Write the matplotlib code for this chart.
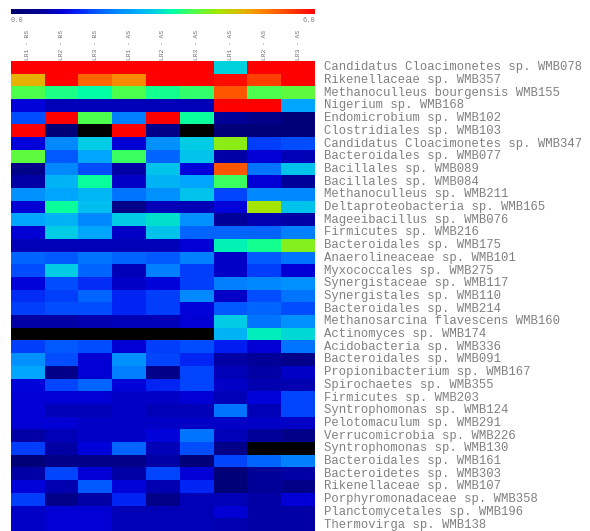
import numpy as np
import matplotlib
matplotlib.use("Agg")
import matplotlib.pyplot as plt
from matplotlib.colors import LinearSegmentedColormap

N = np.nan

taxa = [
    "Candidatus Cloacimonetes sp. WMB078", "Rikenellaceae sp. WMB357",
    "Methanoculleus bourgensis WMB155", "Nigerium sp. WMB168",
    "Endomicrobium sp. WMB102", "Clostridiales sp. WMB103",
    "Candidatus Cloacimonetes sp. WMB347", "Bacteroidales sp. WMB077",
    "Bacillales sp. WMB089", "Bacillales sp. WMB084",
    "Methanoculleus sp. WMB211", "Deltaproteobacteria sp. WMB165",
    "Mageeibacillus sp. WMB076", "Firmicutes sp. WMB216",
    "Bacteroidales sp. WMB175", "Anaerolineaceae sp. WMB101",
    "Myxococcales sp. WMB275", "Synergistaceae sp. WMB117",
    "Synergistales sp. WMB110", "Bacteroidales sp. WMB214",
    "Methanosarcina flavescens WMB160", "Actinomyces sp. WMB174",
    "Acidobacteria sp. WMB336", "Bacteroidales sp. WMB091",
    "Propionibacterium sp. WMB167", "Spirochaetes sp. WMB355",
    "Firmicutes sp. WMB203", "Syntrophomonas sp. WMB124",
    "Pelotomaculum sp. WMB291", "Verrucomicrobia sp. WMB226",
    "Syntrophomonas sp. WMB130", "Bacteroidales sp. WMB161",
    "Bacteroidetes sp. WMB303", "Rikenellaceae sp. WMB107",
    "Porphyromonadaceae sp. WMB358", "Planctomycetales sp. WMB196",
    "Thermovirga sp. WMB138",
]

samples = ["LR1 - BS", "LR2 - BS", "LR3 - BS",
           "LR1 - AS", "LR2 - AS", "LR3 - AS",
           "LR1 - AS", "LR2 - AS", "LR3 - AS"]

lr1_bs = [6, 4.6, 3.6, 1.05, 1.6, 6, 1.05, 3.7, 0.4, 0.7, 2.2, 1.0, 2.4, 1.0, 0.8, 1.8, 1.6, 1.05, 1.4,
          1.5, 0.7, N, 1.5, 2.2, 2.4, 1.05, 1.0, 1.0, 1.0, 0.7, 1.5, 0.2, 0.7, 1.05, 1.5, 0.9, 0.9]
lr2_bs = [6, 6, 3.35, 0.8, 6, 0.2, 2.1, 1.7, 2.1, 2.55, 2.4, 3.25, 2.55, 2.8, 0.8, 1.7, 2.8, 1.6, 1.5,
          1.6, 0.7, N, 1.7, 1.6, 0.4, 1.55, 1.0, 0.8, 1.0, 0.8, 0.7, 0.4, 1.55, 0.75, 0.4, 1.0, 1.0]
lr3_bs = [6, 5.2, 3.2, 0.8, 3.6, N, 2.8, 2.4, 1.6, 3.25, 2.6, 2.65, 2.1, 2.4, 0.8, 1.9, 1.8, 1.4, 1.8,
          1.6, 0.75, N, 1.6, 1.0, 1.0, 1.8, 1.0, 0.8, 0.9, 0.9, 1.05, 0.4, 1.0, 1.7, 0.7, 1.0, 1.0]
lr1_as = [6, 4.9, 3.6, 0.8, 2.0, 6, 1.0, 3.5, 0.7, 0.9, 1.9, 0.4, 2.8, 0.9, 0.8, 1.8, 0.8, 0.9, 1.35,
          1.35, 0.8, N, 1.0, 2.2, 2.0, 1.05, 0.9, 0.9, 0.9, 0.9, 1.8, 0.4, 0.7, 1.05, 1.35, 0.8, 0.8]
lr2_as = [6, 6, 3.3, 0.8, 6, 0.4, 2.2, 1.8, 2.7, 2.55, 2.2, 0.8, 2.95, 2.7, 0.8, 1.7, 2.0, 1.05, 1.5,
          1.5, 0.8, N, 1.5, 1.55, 0.4, 1.35, 0.9, 0.8, 0.9, 1.05, 0.8, 0.7, 1.55, 0.75, 0.4, 0.8, 0.8]
lr3_as = [6, 6, 3.45, 0.8, 3.25, N, 2.8, 2.7, 1.05, 2.4, 2.7, 0.8, 2.2, 1.8, 1.0, 2.0, 1.5, 1.5, 2.1,
          1.05, 1.0, N, 1.6, 1.35, 1.55, 1.55, 1.0, 0.8, 0.9, 1.9, 1.6, 0.2, 1.0, 1.35, 0.8, 0.8, 0.8]
lr1_as2 = [2.85, 5.9, 5.3, 6, 0.6, 0.2, 3.95, 0.7, 5.3, 3.5, 1.55, 1.05, 0.6, 1.8, 3.1, 0.9, 0.9, 2.0, 0.9,
           1.7, 2.8, 2.55, 1.3, 0.7, 0.8, 0.9, 0.8, 1.9, 0.9, 0.8, 0.4, 1.55, 0.2, 0.2, 0.8, 1.0, 0.75]
lr2_as2 = [6, 5.5, 3.6, 6, 0.4, 0.2, 1.5, 1.0, 1.9, 1.0, 2.1, 4.1, 0.75, 1.8, 3.3, 1.7, 1.5, 2.1, 1.6,
           1.8, 1.9, 3.05, 1.0, 0.6, 0.7, 0.75, 1.05, 0.8, 0.9, 0.6, N, 1.8, 0.6, 0.6, 0.7, 0.7, 0.7]
lr3_as2 = [6, 6, 3.7, 2.4, 0.2, 0.2, 1.6, 0.8, 2.7, 0.6, 2.1, 2.7, 0.7, 2.0, 3.9, 1.9, 1.0, 2.2, 1.9,
           1.6, 2.2, 2.9, 1.9, 0.4, 0.9, 0.75, 1.55, 1.55, 0.9, 0.4, N, 2.0, 0.7, 0.4, 1.0, 0.7, 0.7]

columns = [lr1_bs, lr2_bs, lr3_bs, lr1_as, lr2_as, lr3_as, lr1_as2, lr2_as2, lr3_as2]
data = np.ma.masked_invalid(np.array(columns, dtype=float).T)

# colour scale like the original tool (navy -> blue -> cyan -> green -> yellow -> red)
stops = [
    (0.0, (0.0, 0.0, 0.42)),
    (0.6, (0.0, 0.0, 0.60)),
    (1.0, (0.0, 0.0, 0.84)),
    (1.3, (0.0, 0.12, 0.95)),
    (1.6, (0.0, 0.30, 1.0)),
    (2.0, (0.0, 0.50, 1.0)),
    (2.4, (0.0, 0.65, 1.0)),
    (2.8, (0.0, 0.80, 0.90)),
    (3.2, (0.0, 1.0, 0.65)),
    (3.6, (0.3, 1.0, 0.3)),
    (4.1, (0.65, 0.9, 0.0)),
    (4.6, (0.9, 0.7, 0.0)),
    (5.0, (1.0, 0.5, 0.0)),
    (5.5, (1.0, 0.25, 0.0)),
    (6.0, (1.0, 0.0, 0.0)),
]
cmap = LinearSegmentedColormap.from_list("heat", [(v / 6.0, c) for v, c in stops])
cmap.set_bad("black")

fig = plt.figure(figsize=(5.9, 5.31), dpi=100)
W, H = 590.0, 531.0
x0, x1 = 11, 315
top = 61
row_h = 12.7
nrows = len(taxa)
col_w = (x1 - x0) / len(samples)
ax = fig.add_axes([x0 / W, 1 - (top + nrows * row_h) / H, (x1 - x0) / W, nrows * row_h / H])
im = ax.imshow(data, cmap=cmap, vmin=0, vmax=6, aspect="auto", interpolation="nearest")
ax.set_xticks([])
ax.set_yticks([])
for s in ax.spines.values():
    s.set_visible(False)

# row labels on the right
lab_x = len(samples) - 0.5 + 9 / col_w
for i, name in enumerate(taxa):
    ax.text(lab_x, i, name, fontsize=8.8, family="Liberation Mono", color="#808080",
            va="center", ha="left", clip_on=False)

# column labels, rotated
for j, lab in enumerate(samples):
    ax.text(j, -0.6, lab, fontsize=4.5, family="Liberation Mono", color="#707070",
            rotation=90, ha="center", va="bottom", clip_on=False)

# colour bar on top
cax = fig.add_axes([x0 / W, 1 - 14 / H, (x1 - x0) / W, 5 / H])
cb = fig.colorbar(im, cax=cax, orientation="horizontal")
cb.set_ticks([])
cb.outline.set_visible(False)
fig.text(x0 / W, 1 - 21 / H, "0.0", fontsize=5, family="Liberation Mono", color="#808080",
         ha="left", va="center")
fig.text(x1 / W, 1 - 21 / H, "6.0", fontsize=5, family="Liberation Mono", color="#808080",
         ha="right", va="center")

fig.savefig("out.png", dpi=100)
